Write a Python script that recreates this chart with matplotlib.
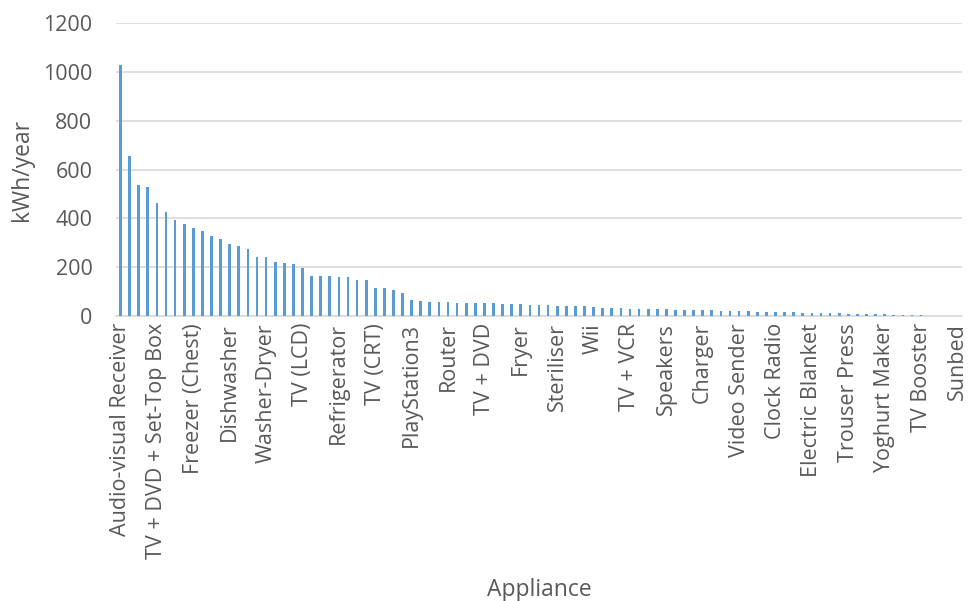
import matplotlib
matplotlib.use("Agg")
import matplotlib.pyplot as plt
import numpy as np

# kWh/year per appliance, sorted descending (93 appliances)
values = [
    1028, 657, 537, 527, 462, 427, 392, 377, 362, 348,
    326, 315, 293, 288, 275, 242, 240, 223, 216, 212,
    196, 164, 164, 164, 160, 158, 147, 147, 116, 114,
    105, 95, 66, 63, 59, 58, 58, 55, 55, 55,
    53, 53, 51, 51, 51, 47, 47, 44, 40, 40,
    40, 40, 37, 34, 33, 33, 30, 30, 30, 29,
    29, 26, 25, 25, 25, 25, 22, 22, 20, 20,
    18, 18, 18, 18, 15, 14, 11, 11, 11, 11,
    10, 10, 7, 7, 7, 5, 5, 3, 3, 1.5,
    1, 0.5, 0.3,
]

# only every 4th appliance name is shown on the axis
shown_labels = [
    "Audio-visual Receiver", "TV + DVD + Set-Top Box", "Freezer (Chest)", "Dishwasher",
    "Washer-Dryer", "TV (LCD)", "Refrigerator", "TV (CRT)", "PlayStation3", "Router",
    "TV + DVD", "Fryer", "Steriliser", "Wii", "TV + VCR", "Speakers", "Charger",
    "Video Sender", "Clock Radio", "Electric Blanket", "Trouser Press", "Yoghurt Maker",
    "TV Booster", "Sunbed",
]

plt.rcParams["font.family"] = ["Open Sans", "DejaVu Sans"]
text_color = "#595959"
grid_color = "#D9D9D9"

fig = plt.figure(figsize=(9.73, 6.01), dpi=100)
ax = fig.add_axes([116 / 973, 1 - 316 / 601, (962 - 116) / 973, (316 - 23) / 601])

x = np.arange(len(values))
ax.bar(x, values, width=0.3, color="#5B9BD5", zorder=3)

ax.set_xlim(-0.5, len(values) - 0.5)
ax.set_ylim(0, 1200)
ax.set_yticks(np.arange(0, 1201, 200))
ax.yaxis.grid(True, color=grid_color, linewidth=1.2, zorder=0)
ax.set_axisbelow(True)

ax.set_xticks(x[::4])
ax.set_xticklabels(shown_labels, rotation=90)

for side in ["top", "right", "left"]:
    ax.spines[side].set_visible(False)
ax.spines["bottom"].set_color(grid_color)
ax.spines["bottom"].set_linewidth(1.2)

ax.tick_params(axis="both", length=0, labelsize=15.5, labelcolor=text_color)
ax.tick_params(axis="y", pad=17)
ax.tick_params(axis="x", pad=5)

fig.text(22 / 973, 1 - 170 / 601, "kWh/year", fontsize=16.5, color=text_color,
         rotation=90, ha="center", va="center")
fig.text(539 / 973, 1 - 590 / 601, "Appliance", fontsize=16.5, color=text_color,
         ha="center", va="center")

fig.savefig("out.png", dpi=100)
